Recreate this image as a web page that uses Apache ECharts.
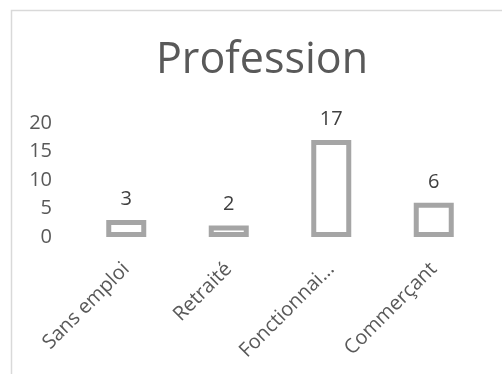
<!DOCTYPE html>
<html>
<head>
<meta charset="utf-8">
<script src="https://cdn.jsdelivr.net/npm/echarts@6/dist/echarts.min.js"></script>
<style>
  html, body { margin: 0; padding: 0; background: #fff; }
  #chart { width: 502px; height: 374px; }
</style>
</head>
<body>
<div id="chart"></div>
<script>
// Respondents by profession
const categories = ['Sans emploi', 'Retraité', 'Fonctionnaire', 'Commerçant'];
const counts = [3, 2, 17, 6];
const yTicks = [0, 5, 10, 15, 20];

const MAX_LABEL_CHARS = 11;
const shortLabel = (s) => (s.length > MAX_LABEL_CHARS ? s.slice(0, MAX_LABEL_CHARS) + '...' : s);

const chart = echarts.init(document.getElementById('chart'), null, { renderer: 'canvas' });

chart.setOption({
  animation: false,
  backgroundColor: '#ffffff',
  textStyle: { fontFamily: 'Open Sans' },
  title: {
    text: 'Profession',
    left: 151,
    top: 34,
    textStyle: { fontFamily: 'Open Sans', fontSize: 43, fontWeight: 'normal', color: '#595959' }
  },
  graphic: [{
    type: 'rect',
    shape: { x: 11.5, y: 10.5, width: 600, height: 500 },
    style: { fill: null, stroke: '#d9d9d9', lineWidth: 1.5 },
    silent: true
  }],
  grid: { left: 75, right: 17, top: 123, bottom: 137, outerBoundsMode: 'none', containLabel: false },
  xAxis: {
    type: 'category',
    data: categories,
    axisLine: { show: false },
    axisTick: { show: false },
    axisLabel: {
      rotate: 45,
      interval: 0,
      margin: 29,
      color: '#595959',
      fontSize: 20,
      fontFamily: 'Open Sans',
      formatter: shortLabel
    }
  },
  yAxis: {
    type: 'value',
    min: yTicks[0],
    max: yTicks[yTicks.length - 1],
    interval: yTicks[1] - yTicks[0],
    splitLine: { show: false },
    axisLine: { show: false },
    axisTick: { show: false },
    axisLabel: { margin: 23, color: '#595959', fontSize: 20, fontFamily: 'Open Sans' }
  },
  series: [{
    type: 'bar',
    data: counts,
    barWidth: 40,
    itemStyle: { color: '#ffffff', borderColor: '#a5a5a5', borderWidth: 5 },
    label: {
      show: true,
      position: 'top',
      distance: 11,
      color: '#404040',
      fontSize: 20,
      fontFamily: 'Open Sans'
    }
  }]
});
</script>
</body>
</html>
